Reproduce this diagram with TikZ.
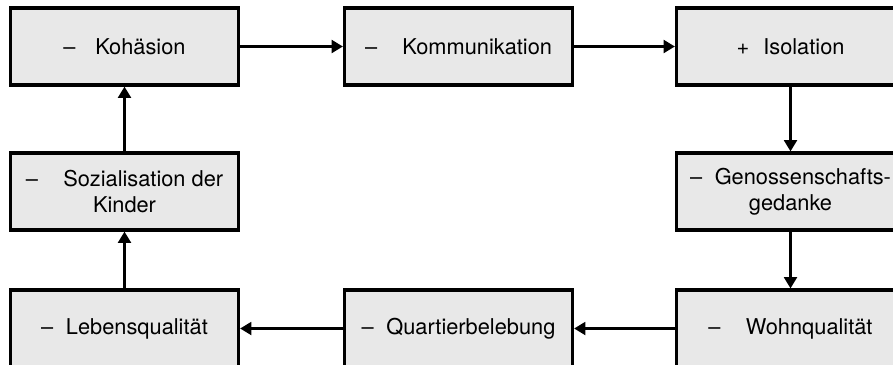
\documentclass[tikz,border=0pt]{standalone}
\usepackage{fontspec}
\setmainfont{TeX Gyre Heros}
\usepackage{tikz}
\usetikzlibrary{arrows.meta}
\definecolor{boxgray}{HTML}{E8E8E8}

\begin{document}
\begin{tikzpicture}[x=0.025cm, y=-0.025cm, line width=2pt,
    >={Triangle[length=8pt,width=9pt]},
    factor/.style={draw, line width=2.2pt, fill=boxgray, rectangle,
      minimum width=5.7cm, minimum height=1.925cm, inner sep=0pt,
      align=center, font=\fontsize{15.5}{18.5}\selectfont}]
    \clip (0,0) rectangle (893,364);
    \useasboundingbox (0,0) rectangle (893,364);

    \node[factor](koh) at (124.5,46.5) {–\hspace{14pt}Kohäsion};
    \node[factor](komm) at (458.5,46.5) {–\hspace{18pt}Kommunikation};
    \node[factor](iso) at (790.5,46.5) {+\hspace{10pt}Isolation};
    \node[factor](soz) at (124.5,191.5) {–\hspace{18pt}Sozialisation der\\Kinder};
    \node[factor](gen) at (790.5,191.5) {–\hspace{9pt}Genossenschafts-\\gedanke};
    \node[factor](leben) at (124.5,328.5) {–\hspace{9pt}Lebensqualität};
    \node[factor](quart) at (458.5,328.5) {–\hspace{9pt}Quartierbelebung};
    \node[factor](wohn) at (790.5,328.5) {–\hspace{18pt}Wohnqualität};

    \draw[->] (koh) -- (komm);
    \draw[->] (komm) -- (iso);
    \draw[->] (iso) -- (gen);
    \draw[->] (gen) -- (wohn);
    \draw[->] (wohn) -- (quart);
    \draw[->] (quart) -- (leben);
    \draw[->] (leben) -- (soz);
    \draw[->] (soz) -- (koh);
  \end{tikzpicture}
\end{document}
